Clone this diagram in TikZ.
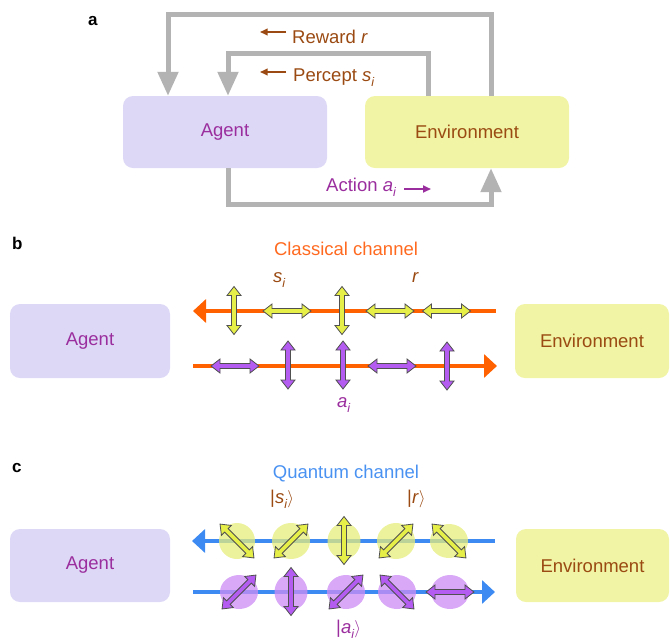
\documentclass[tikz,border=0pt]{standalone}
\usepackage{fontspec}
\setmainfont{Liberation Sans}
\usetikzlibrary{arrows.meta,shapes.geometric}
\definecolor{agfill}{HTML}{DDD8F6}
\definecolor{envfill}{HTML}{F0F4A4}
\definecolor{agtext}{HTML}{9B2E9E}
\definecolor{brn}{HTML}{9A4A12}
\definecolor{grayl}{HTML}{B3B3B3}
\definecolor{orng}{HTML}{FF6000}
\definecolor{orngtxt}{HTML}{FF6A20}
\definecolor{blu}{HTML}{3D8BF2}
\definecolor{blutxt}{HTML}{4A92F2}
\definecolor{yarrf}{HTML}{E6EE48}
\definecolor{parrf}{HTML}{B45CF2}
\definecolor{outl}{HTML}{505050}
\definecolor{yellf}{HTML}{E6EC7A}
\definecolor{pellf}{HTML}{CC8CF4}
\newcommand{\lsub}[1]{\raisebox{-0.3em}{\fontsize{12.5}{14}\selectfont\textit{#1}}}
\newcommand{\dblarr}[4]{%
  \begin{scope}[shift={(#1,#2)},rotate=#3]
    \filldraw[#4] (-24,0) -- (-15,7) -- (-15,2.5) -- (15,2.5) -- (15,7) -- (24,0)
      -- (15,-7) -- (15,-2.5) -- (-15,-2.5) -- (-15,-7) -- cycle;
  \end{scope}}
\tikzset{
  agbox/.style={fill=agfill, rounded corners=10pt, text=agtext, inner sep=0pt},
  envbox/.style={fill=envfill, rounded corners=10pt, text=brn, inner sep=0pt},
  lbl/.style={anchor=base west, inner sep=0pt, font=\fontsize{17}{20}\selectfont\bfseries},
  txt/.style={inner sep=0pt},
  gline/.style={draw=grayl, line width=5pt, line join=miter, -{Triangle[length=24pt,width=20pt]}},
  brarr/.style={draw=brn, line width=1.7pt, -{Triangle[length=7.5pt,width=6.5pt]}},
  purarr/.style={draw=agtext, line width=1.7pt, -{Triangle[length=8pt,width=7pt]}},
  oline/.style={draw=orng, line width=4pt},
  bline/.style={draw=blu, line width=4pt},
  yarr/.style={fill=yarrf, draw=outl, line width=0.8pt, line join=miter},
  parr/.style={fill=parrf, draw=outl, line width=0.8pt, line join=miter},
  yell/.style={ellipse, fill=yellf, fill opacity=0.75, inner sep=0pt, minimum width=36pt, minimum height=36pt},
  pell/.style={ellipse, fill=pellf, fill opacity=0.75, inner sep=0pt, minimum width=38pt, minimum height=34pt}
}
\begin{document}
\begin{tikzpicture}[x=1pt,y=-1pt,font=\fontsize{18.5}{22}\selectfont]
\useasboundingbox (0,0) rectangle (670,641);
% ---------------- panel a
\node[lbl] (la) at (88,25) {a};
\node[agbox, minimum width=204pt, minimum height=72pt] (agA) at (225,132) {Agent};
\node[envbox, minimum width=204pt, minimum height=72pt] (envA) at (467,132) {Environment};
\draw[gline] ([xshift=24pt]envA.north) -- ++(0,-81) -| ([xshift=-57pt]agA.north);
\draw[gline] ([xshift=-39pt]envA.north) -- ++(0,-42) -| ([xshift=3pt]agA.north);
\draw[gline] ([xshift=3pt]agA.south) -- ++(0,36) -| ([xshift=24pt]envA.south);
\node[txt, anchor=base west, text=brn] (rew) at (292,43) {Reward \textit{r}};
\coordinate (rewtail) at (286,32);
\coordinate (rewtip) at (260,32);
\draw[brarr] (rewtail) -- (rewtip);
\node[txt, anchor=base west, text=brn] (per) at (293,81) {Percept \textit{s}\lsub{i}};
\coordinate (pertail) at (286,72);
\coordinate (pertip) at (260,72);
\draw[brarr] (pertail) -- (pertip);
\node[txt, anchor=base west, text=agtext] (act) at (326,191) {Action \textit{a}\lsub{i}};
\coordinate (acttail) at (404,189);
\coordinate (acttip) at (431,189);
\draw[purarr] (acttail) -- (acttip);
% ---------------- panel b
\node[lbl] (lb) at (12,249) {b};
\node[agbox, minimum width=160pt, minimum height=74pt] (agB) at (90,341) {Agent};
\node[envbox, minimum width=154pt, minimum height=74pt] (envB) at (592,341) {Environment};
\node[txt, anchor=base, text=orngtxt] (cch) at (346,255) {Classical channel};
\coordinate (bt1) at (193,311);
\coordinate (bt2) at (496,311);
\coordinate (bb1) at (193,366);
\coordinate (bb2) at (497,366);
\draw[oline, {Triangle[length=13pt,width=23pt]}-] (bt1) -- (bt2);
\draw[oline, -{Triangle[length=13pt,width=23pt]}] (bb1) -- (bb2);
\dblarr{234}{310.5}{90}{yarr}
\dblarr{287}{311}{0}{yarr}
\dblarr{342}{310.5}{90}{yarr}
\dblarr{390}{311}{0}{yarr}
\dblarr{446.5}{311}{0}{yarr}
\dblarr{235}{366}{0}{parr}
\dblarr{288}{365}{90}{parr}
\dblarr{343}{365}{90}{parr}
\dblarr{392}{366}{0}{parr}
\dblarr{447}{366}{90}{parr}
\node[txt, anchor=base west, text=brn] (sb) at (273,282) {\textit{s}\lsub{i}};
\node[txt, anchor=base west, text=brn] (rb) at (412,282) {\textit{r}};
\node[txt, anchor=base west, text=agtext] (ab) at (337,407) {\textit{a}\lsub{i}};
% ---------------- panel c
\node[lbl] (lc) at (12,472) {c};
\node[agbox, minimum width=160pt, minimum height=73pt] (agC) at (90,565.5) {Agent};
\node[envbox, minimum width=153pt, minimum height=73pt] (envC) at (592.5,565.5) {Environment};
\node[txt, anchor=base, text=blutxt] (qch) at (346,478) {Quantum channel};
\coordinate (ct1) at (192,541);
\coordinate (ct2) at (495,541);
\coordinate (cb1) at (193,592);
\coordinate (cb2) at (495,592);
\draw[bline, {Triangle[length=13pt,width=23pt]}-] (ct1) -- (ct2);
\draw[bline, -{Triangle[length=13pt,width=23pt]}] (cb1) -- (cb2);
\node[yell] (e1) at (237,541) {};
\node[yell, minimum width=38pt] (e2) at (291,541) {};
\node[yell, minimum width=33pt] (e3) at (344,541) {};
\node[yell, minimum width=38pt] (e4) at (396,541) {};
\node[yell, minimum width=38pt, minimum height=34pt] (e5) at (449,541) {};
\node[pell] (f1) at (239,592) {};
\node[pell, minimum width=33pt, minimum height=36pt] (f2) at (291,592) {};
\node[pell] (f3) at (346,592) {};
\node[pell] (f4) at (397,592) {};
\node[pell] (f5) at (450,592) {};
\dblarr{237}{541}{-45}{yarr}
\dblarr{291}{541}{45}{yarr}
\dblarr{344}{540.5}{90}{yarr}
\dblarr{396}{541}{45}{yarr}
\dblarr{449}{541}{-45}{yarr}
\dblarr{239}{592}{45}{parr}
\dblarr{291}{591.5}{90}{parr}
\dblarr{346}{592}{45}{parr}
\dblarr{397}{592}{-45}{parr}
\dblarr{450}{592}{0}{parr}
\node[txt, anchor=base west, text=brn] (sc) at (270,503) {\textbar\textit{s}\lsub{i}$\rangle$};
\node[txt, anchor=base west, text=brn] (rc) at (407,503) {\textbar\textit{r}$\rangle$};
\node[txt, anchor=base west, text=agtext] (ac) at (336,633) {\textbar\textit{a}\lsub{i}$\rangle$};
\end{tikzpicture}
\end{document}
